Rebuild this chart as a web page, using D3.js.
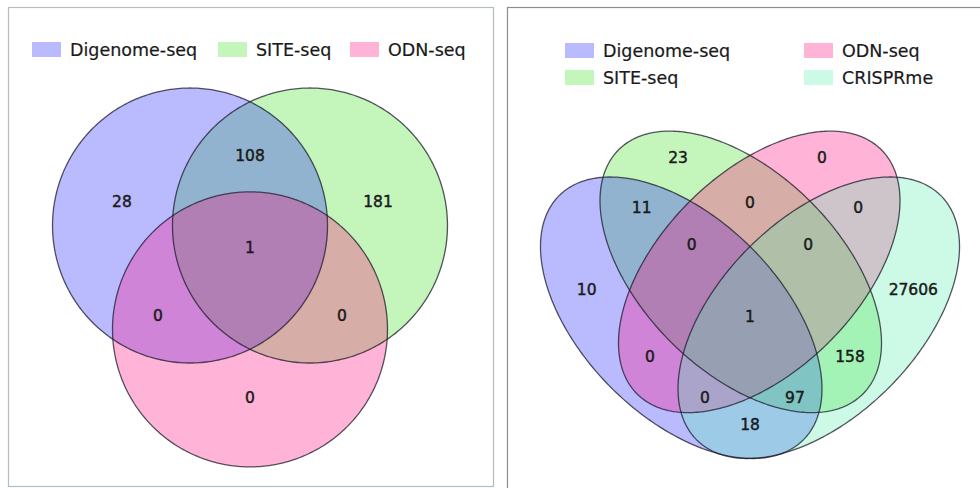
<!DOCTYPE html>
<html><head><meta charset="utf-8">
<script src="https://cdn.jsdelivr.net/npm/d3@7"></script>
<style>html,body{margin:0;padding:0;background:#fff;} svg{display:block;font-family:"DejaVu Sans",sans-serif;}</style>
</head><body><svg id="c" width="980" height="488"></svg>
<script>
// ---------- data ----------
const setsLeft = ["Digenome-seq", "SITE-seq", "ODN-seq"];
const regionKeysLeft = ["100", "010", "001", "110", "101", "011", "111"];
const regionCountsLeft = [28, 181, 0, 108, 0, 0, 1];

const setsRight = ["Digenome-seq", "SITE-seq", "ODN-seq", "CRISPRme"];
const regionKeysRight = ["1000","0100","0010","0001","1100","1010","1001","0110","0101","0011","1110","1101","1011","0111","1111"];
const regionCountsRight = [10, 23, 0, 27606, 11, 0, 18, 0, 158, 0, 0, 97, 0, 0, 1];

// ---------- layout / style ----------
const palette = ["#1c1cff", "#3ade1c", "#ff057a", "#58eeac"];
const fillAlpha = 0.3;
const drawOrder = [1, 0, 2, 3];

// left: circles in unit coordinates
const circlesLeft = [
  {cx: 0.3696, cy: 0.6141, r: 0.2989},
  {cx: 0.6304, cy: 0.6141, r: 0.2989},
  {cx: 0.5000, cy: 0.3883, r: 0.2989}
];
const labelPosLeft = {
  "100": [0.2217, 0.6652], "010": [0.7783, 0.6652], "001": [0.5, 0.2391],
  "110": [0.5, 0.7652], "101": [0.30, 0.4174], "011": [0.70, 0.4174], "111": [0.5, 0.5652]
};
// right: ellipses in unit coordinates (angle in degrees, y up)
const ellipsesRight = [
  {cx: 0.3505, cy: 0.4136, a: 0.3754, b: 0.2152, angle: -45},
  {cx: 0.4799, cy: 0.5133, a: 0.3754, b: 0.2152, angle: -45},
  {cx: 0.5201, cy: 0.5133, a: 0.3754, b: 0.2152, angle: 45},
  {cx: 0.6495, cy: 0.4136, a: 0.3754, b: 0.2152, angle: 45}
];
const labelPosRight = {
  "1000": [0.145, 0.4739], "0100": [0.3435, 0.7609], "0010": [0.6565, 0.7609], "0001": [0.855, 0.4739],
  "1100": [0.2646, 0.6515], "0011": [0.7354, 0.6515], "0110": [0.5, 0.6630],
  "1110": [0.3733, 0.5717], "0111": [0.6267, 0.5717], "1111": [0.5, 0.4159],
  "1010": [0.2826, 0.3283], "0101": [0.7174, 0.3283], "1011": [0.4022, 0.2391],
  "1101": [0.5978, 0.2391], "1001": [0.5, 0.1804]
};

const svg = d3.select("#c");

// panel frames
svg.append("rect").attr("x", 8.5).attr("y", 7.5).attr("width", 485).attr("height", 479)
  .attr("fill", "#fff").attr("stroke", "#b3bdc1").attr("stroke-width", 1.2);
svg.append("rect").attr("x", 507.5).attr("y", 7.5).attr("width", 490).attr("height", 500)
  .attr("fill", "#fff").attr("stroke", "#8e8e8e").attr("stroke-width", 1.2);

// scales
const xL = d3.scaleLinear().domain([0, 1]).range([20, 480]);
const yL = d3.scaleLinear().domain([0, 1]).range([508, 48]);
const xR = d3.scaleLinear().domain([0, 1]).range([520, 980]);
const yR = d3.scaleLinear().domain([0, 1]).range([508, 48]);

const line = (xs, ys) => d3.line().x(d => xs(d[0])).y(d => ys(d[1])).curve(d3.curveLinearClosed);
const ts = d3.range(0, 360, 1).map(d => d * Math.PI / 180);
function ellipsePts(e) {
  const th = e.angle * Math.PI / 180;
  return ts.map(t => [
    e.cx + e.a * Math.cos(t) * Math.cos(th) - e.b * Math.sin(t) * Math.sin(th),
    e.cy + e.a * Math.cos(t) * Math.sin(th) + e.b * Math.sin(t) * Math.cos(th)
  ]);
}

function numLabels(g, keys, counts, pos, xs, ys) {
  g.selectAll("text.num").data(keys).join("text").attr("class", "num")
    .attr("x", k => xs(pos[k][0])).attr("y", k => ys(pos[k][1]))
    .attr("text-anchor", "middle").attr("dominant-baseline", "central")
    .attr("font-size", 15.5).attr("fill", "#1a1a1a")
    .attr("stroke", "#1a1a1a").attr("stroke-width", 0.45)
    .text((k, i) => counts[i]);
}

// ---------- left venn ----------
const gL = svg.append("g");
const lineL = line(xL, yL);
drawOrder.filter(i => i < circlesLeft.length).forEach(i => {
  const c = circlesLeft[i];
  gL.append("path").attr("d", lineL(ellipsePts({cx: c.cx, cy: c.cy, a: c.r, b: c.r, angle: 0})))
    .attr("fill", palette[i]).attr("fill-opacity", fillAlpha);
});
circlesLeft.forEach(c => {
  gL.append("path").attr("d", lineL(ellipsePts({cx: c.cx, cy: c.cy, a: c.r, b: c.r, angle: 0})))
    .attr("fill", "none").attr("stroke", "#1c1c2c").attr("stroke-opacity", 0.75).attr("stroke-width", 1.3);
});
numLabels(gL, regionKeysLeft, regionCountsLeft, labelPosLeft, xL, yL);

// ---------- right venn ----------
const gR = svg.append("g");
const lineR = line(xR, yR);
drawOrder.forEach(i => {
  gR.append("path").attr("d", lineR(ellipsePts(ellipsesRight[i])))
    .attr("fill", palette[i]).attr("fill-opacity", fillAlpha);
});
ellipsesRight.forEach(e => {
  gR.append("path").attr("d", lineR(ellipsePts(e)))
    .attr("fill", "none").attr("stroke", "#1c1c2c").attr("stroke-opacity", 0.75).attr("stroke-width", 1.3);
});
numLabels(gR, regionKeysRight, regionCountsRight, labelPosRight, xR, yR);

// ---------- legends ----------
const legL = [{x: 32, y: 42}, {x: 218, y: 42}, {x: 350, y: 42}];
const legR = [{x: 565, y: 43}, {x: 565, y: 70}, {x: 804, y: 43}, {x: 804, y: 70}];
function legend(sets, pos) {
  const g = svg.append("g");
  sets.forEach((s, i) => {
    g.append("rect").attr("x", pos[i].x).attr("y", pos[i].y).attr("width", 29).attr("height", 15)
      .attr("fill", palette[i]).attr("fill-opacity", fillAlpha);
    g.append("text").attr("x", pos[i].x + 38).attr("y", pos[i].y + 7.5)
      .attr("dominant-baseline", "central").attr("font-size", 17.5).attr("fill", "#1a1a1a")
      .attr("stroke", "#1a1a1a").attr("stroke-width", 0.2).text(s);
  });
}
legend(setsLeft, legL);
legend(setsRight, legR);
</script></body></html>
